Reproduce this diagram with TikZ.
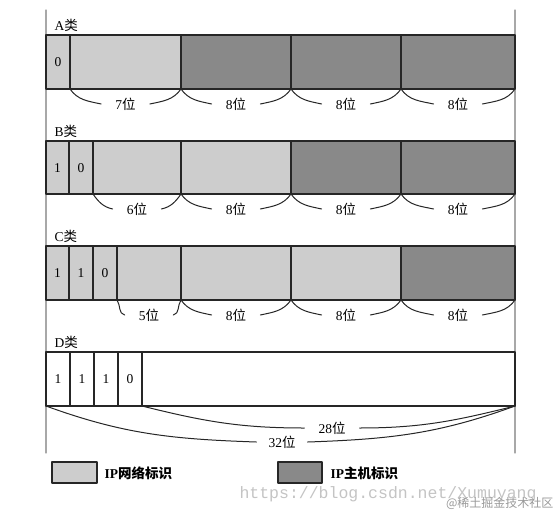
\documentclass[tikz,border=0pt]{standalone}
\usepackage{fontspec}
\setmainfont{Liberation Serif}
\setmonofont{Liberation Mono}
\newfontfamily\cjk{Noto Sans CJK SC}
\definecolor{netgray}{RGB}{205,205,205}
\definecolor{hostgray}{RGB}{137,137,137}
\definecolor{rulegray}{RGB}{168,168,168}
\definecolor{markgray}{RGB}{196,196,196}
\tikzset{
  field/.style={draw=black!85,line width=1.6pt},
  cell/.style={black!85,line width=1.2pt},
  brace/.style={black!85,line width=1pt},
  bitlbl/.style={inner xsep=14pt,inner ysep=0pt},
}
\begin{document}
\begin{tikzpicture}[x=1pt,y=1pt,line join=round,line cap=round,font=\fontsize{13.5}{16}\selectfont]
\useasboundingbox (0,0) rectangle (559,-511);
% side rules
\draw[rulegray,line width=1.2pt] (46,-10)--(46,-453) (515,-10)--(515,-453);
% class A
\node[anchor=west] (clsA) at (51,-25) {A{\cjk 类}};
\fill[netgray] (46,-35) rectangle (181,-89);
\fill[hostgray] (181,-35) rectangle (515,-89);
\foreach \x in {70,181,291,401} \draw[cell] (\x,-35)--(\x,-89);
\draw[field] (46,-35) rectangle (515,-89);
\node (a0) at (58,-62) {0};
\foreach \a/\b/\n in {70/181/7,181/291/8,291/401/8,401/515/8}{
  \node[bitlbl] (wa\a) at ({(\a+\b)/2},-104) {\n{\cjk 位}};
  \draw[brace] (\a,-89) to[out=-55,in=168] (wa\a.west);
  \draw[brace] (\b,-89) to[out=-125,in=12] (wa\a.east);
}
% class B
\node[anchor=west] (clsB) at (51,-131) {B{\cjk 类}};
\fill[netgray] (46,-141) rectangle (291,-194);
\fill[hostgray] (291,-141) rectangle (515,-194);
\foreach \x in {69,93,181,291,401} \draw[cell] (\x,-141)--(\x,-194);
\draw[field] (46,-141) rectangle (515,-194);
\node (b1) at (57.5,-168) {1};
\node (b2) at (81,-168) {0};
\foreach \a/\b/\n in {93/181/6,181/291/8,291/401/8,401/515/8}{
  \node[bitlbl] (wb\a) at ({(\a+\b)/2},-209) {\n{\cjk 位}};
  \draw[brace] (\a,-194) to[out=-55,in=168] (wb\a.west);
  \draw[brace] (\b,-194) to[out=-125,in=12] (wb\a.east);
}
% class C
\node[anchor=west] (clsC) at (51,-236) {C{\cjk 类}};
\fill[netgray] (46,-246) rectangle (401,-300);
\fill[hostgray] (401,-246) rectangle (515,-300);
\foreach \x in {69,93,117,181,291,401} \draw[cell] (\x,-246)--(\x,-300);
\draw[field] (46,-246) rectangle (515,-300);
\node (c1) at (57.5,-273) {1};
\node (c2) at (81,-273) {1};
\node (c3) at (105,-273) {0};
\foreach \a/\b/\n in {117/181/5,181/291/8,291/401/8,401/515/8}{
  \node[bitlbl] (wc\a) at ({(\a+\b)/2},-315) {\n{\cjk 位}};
  \draw[brace] (\a,-300) to[out=-55,in=168] (wc\a.west);
  \draw[brace] (\b,-300) to[out=-125,in=12] (wc\a.east);
}
% class D
\node[anchor=west] (clsD) at (51,-342) {D{\cjk 类}};
\foreach \x in {70,94,118,142} \draw[cell] (\x,-352)--(\x,-406);
\draw[field] (46,-352) rectangle (515,-406);
\foreach \x/\v [count=\i] in {58/1,82/1,106/1,130/0} \node (d\i) at (\x,-379) {\v};
\node[bitlbl] (w28) at (332,-428) {28{\cjk 位}};
\draw[brace] (142,-406) to[out=-14,in=180] (w28.west);
\draw[brace] (515,-406) to[out=-166,in=0] (w28.east);
\node[bitlbl,inner xsep=12pt] (w32) at (282,-442) {32{\cjk 位}};
\draw[brace] (46,-406) to[out=-20,in=178] (w32.west);
\draw[brace] (515,-406) to[out=-160,in=2] (w32.east);
% legend
\draw[field,fill=netgray] (52,-462) rectangle (97,-483);
\node[anchor=west,font=\fontsize{13.5}{16}\selectfont\bfseries] (keynet) at (101,-473) {IP{\cjk 网络标识}};
\draw[field,fill=hostgray] (278,-462) rectangle (322,-483);
\node[anchor=west,font=\fontsize{13.5}{16}\selectfont\bfseries] (keyhost) at (327,-473) {IP{\cjk 主机标识}};
% watermark
\node[anchor=west,markgray,font=\ttfamily\fontsize{16.5}{18}\selectfont] (url) at (236,-494) {https://blog.csdn.net/Xumuyang};
\node[anchor=east,black!40,font=\cjk\fontsize{12}{14}\selectfont] (site) at (557,-503) {@稀土掘金技术社区};
\end{tikzpicture}
\end{document}
